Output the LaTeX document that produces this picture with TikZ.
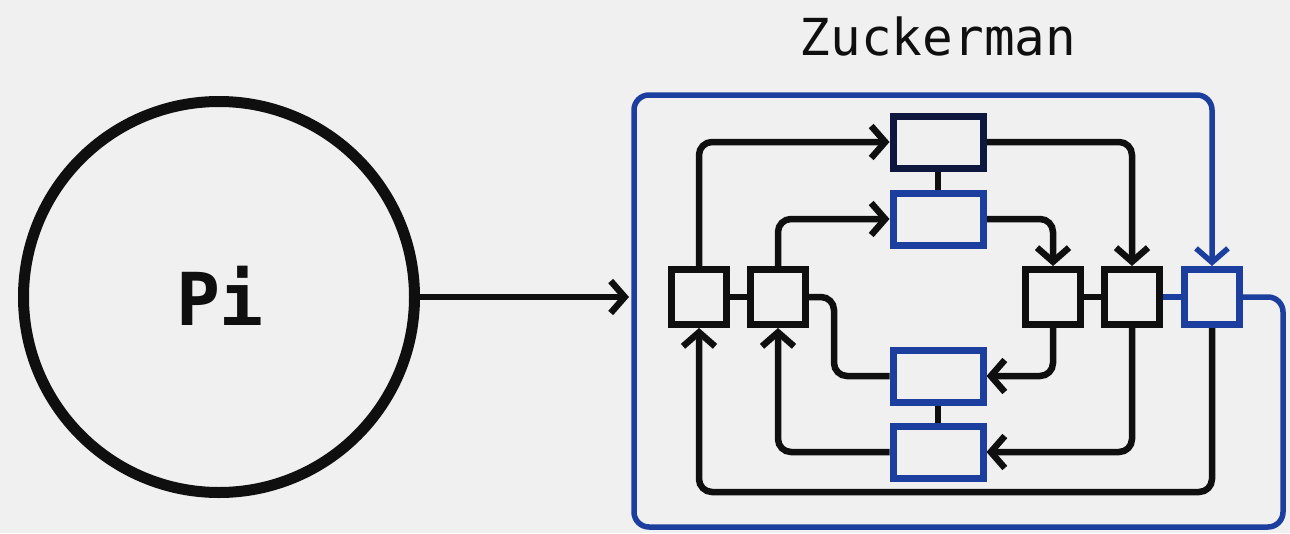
\documentclass[tikz,border=0pt]{standalone}
\usepackage{fontspec}
\newfontfamily\monofont{DejaVu Sans Mono}
\usetikzlibrary{arrows.meta}
\definecolor{bg}{RGB}{240,240,240}
\definecolor{ink}{RGB}{15,15,15}
\definecolor{navy}{RGB}{14,24,62}
\definecolor{zblue}{RGB}{28,62,158}
\tikzset{
  sq/.style={draw=ink, fill=bg, line width=7pt, minimum width=55pt, minimum height=55pt, inner sep=0pt},
  bsq/.style={sq, draw=zblue},
  rbox/.style={draw=zblue, fill=bg, line width=7pt, minimum width=90pt, minimum height=52pt, inner sep=0pt},
  nbox/.style={rbox, draw=navy},
  conn/.style={draw=ink, line width=6.5pt, rounded corners=13pt},
  arr/.style={conn, -{Straight Barb[length=14pt,width=32pt]}},
  barr/.style={arr, draw=zblue},
}
\begin{document}
\begin{tikzpicture}[x=1pt,y=-1pt]
\fill[bg] (0,0) rectangle (1290,533);
\useasboundingbox (0,0) rectangle (1290,533);

\node[circle, draw=ink, line width=11pt, minimum size=391pt, inner sep=0pt] (pi) at (219,297) {};
\node[anchor=base, font=\monofont\bfseries\fontsize{73}{80}\selectfont, text=ink] (pilabel) at (220,325) {Pi};
\node[anchor=base, font=\monofont\fontsize{51}{56}\selectfont, text=ink] (title) at (938,55) {Zuckerman};

% small squares
\node[sq] (L1) at (699,297) {};
\node[sq] (L2) at (778,297) {};
\node[sq] (R1) at (1053,297) {};
\node[sq] (R2) at (1132,297) {};
\node[bsq] (RB) at (1212,297) {};
% rectangles
\node[nbox] (T1) at (938,142) {};
\node[rbox] (T2) at (938,219) {};
\node[rbox] (B1) at (938,376) {};
\node[rbox] (B2) at (938,452) {};

\coordinate (boxw) at (629,297);
\coordinate (bot) at (0,492);
\coordinate (ob1) at (1283,297);
\coordinate (ob2) at (1283,527);
\coordinate (ob3) at (634,527);
\coordinate (ob4) at (634,95);
\coordinate (ob5) at (1212,95);

% outer blue loop
\draw[barr, line width=5.5pt, rounded corners=15pt] (RB.east) -- (ob1) -- (ob2) -- (ob3) -- (ob4) -- (ob5) -- (RB.north);

% short links
\draw[conn] (L1.east) -- (L2.west);
\draw[conn] (R1.east) -- (R2.west);
\draw[conn, draw=zblue] (R2.east) -- (RB.west);
\draw[conn] (T1.south) -- (T2.north);
\draw[conn] (B1.south) -- (B2.north);

% arrows
\draw[arr] (pi.east) -- (boxw);
\draw[arr] (L1.north) |- (T1.west);
\draw[arr] (L2.north) |- (T2.west);
\draw[arr] (T1.east) -| (R2.north);
\draw[arr] (T2.east) -| (R1.north);
\draw[arr] (R1.south) |- (B1.east);
\draw[arr] (R2.south) |- (B2.east);
\draw[conn] (B1.west) -| ([xshift=25pt]L2.east) -- (L2.east);
\draw[arr] (B2.west) -| (L2.south);
\draw[arr] (RB.south) -- (RB.south |- bot) -| (L1.south);

% redraw boxes on top
\node[sq] at (L1) {};
\node[sq] at (L2) {};
\node[sq] at (R1) {};
\node[sq] at (R2) {};
\node[bsq] at (RB) {};
\node[nbox] at (T1) {};
\node[rbox] at (T2) {};
\node[rbox] at (B1) {};
\node[rbox] at (B2) {};
\end{tikzpicture}
\end{document}
